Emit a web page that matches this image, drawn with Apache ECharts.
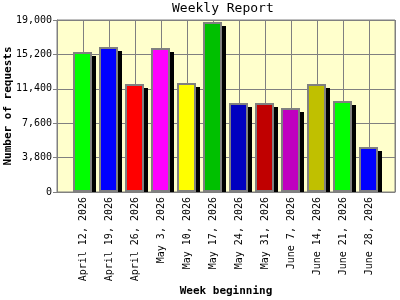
<!DOCTYPE html>
<html>
<head>
<meta charset="utf-8">
<script src="https://cdn.jsdelivr.net/npm/echarts@6/dist/echarts.min.js"></script>
<style>
html, body { margin: 0; padding: 0; background: #fff; }
#main { width: 400px; height: 300px; }
</style>
</head>
<body>
<div id="main"></div>
<script>
var weeks = ['April 12, 2026', 'April 19, 2026', 'April 26, 2026', 'May 3, 2026',
    'May 10, 2026', 'May 17, 2026', 'May 24, 2026', 'May 31, 2026',
    'June 7, 2026', 'June 14, 2026', 'June 21, 2026', 'June 28, 2026'];
var requests = [15430, 16050, 11900, 15870, 12000, 18750, 9800, 9800, 9250, 11930, 10020, 4940];
var colors = ['#00ff00', '#0000ff', '#ff0000', '#ff00ff', '#ffff00', '#00c000',
    '#0000c0', '#c00000', '#c000c0', '#c0c000', '#00ff00', '#0000ff'];

var myChart = echarts.init(document.getElementById('main'));
var font = 'DejaVu Sans Mono';

var data = [];
for (var i = 0; i < requests.length; i++) {
    data.push([i + 1, requests[i]]);
}

// bar with a hard black drop shadow, cut off at the x axis
function renderBar(params, api) {
    var top = api.coord([api.value(0), api.value(1)]);
    var base = api.coord([api.value(0), 0]);
    var cx = Math.round(top[0]);
    var y = Math.round(top[1]);
    var b = Math.round(base[1]);
    return {
        type: 'group',
        children: [{
            type: 'rect',
            shape: { x: cx - 5, y: y + 4, width: 18, height: b - y - 4 },
            style: { fill: '#000' }
        }, {
            type: 'rect',
            shape: { x: cx - 9, y: y + 1, width: 17, height: b - y - 2 },
            style: { fill: colors[params.dataIndex], stroke: '#808080', lineWidth: 2 }
        }]
    };
}

option = {
    animation: false,
    backgroundColor: '#fff',
    title: {
        text: 'Weekly Report',
        left: 172,
        top: 2,
        padding: 0,
        textStyle: { fontFamily: font, fontSize: 13, fontWeight: 'normal', color: '#000' }
    },
    grid: {
        left: 57, right: 5, top: 20, bottom: 108,
        outerBoundsMode: 'none',
        show: true, backgroundColor: '#ffffcc', borderColor: '#808080', borderWidth: 1
    },
    xAxis: {
        type: 'value',
        min: 0,
        max: 13,
        interval: 1,
        name: 'Week beginning',
        nameLocation: 'middle',
        nameGap: 94,
        nameMoveOverlap: false,
        nameTextStyle: { fontFamily: font, fontSize: 11, fontWeight: 'bold', color: '#000' },
        axisLine: { lineStyle: { color: '#808080' } },
        axisTick: { show: false },
        splitLine: { show: true, lineStyle: { color: '#808080' } },
        axisLabel: {
            rotate: 90,
            fontFamily: font,
            fontSize: 10,
            color: '#000',
            margin: 5,
            formatter: function (v) { return weeks[v - 1] || ''; }
        }
    },
    yAxis: {
        type: 'value',
        min: 0,
        max: 19000,
        interval: 3800,
        name: 'Number of requests',
        nameLocation: 'middle',
        nameGap: 43,
        nameMoveOverlap: false,
        nameTextStyle: { fontFamily: font, fontSize: 11, fontWeight: 'bold', color: '#000' },
        axisLine: { show: true, lineStyle: { color: '#808080' } },
        axisTick: { show: true, length: 4, lineStyle: { color: '#808080' } },
        splitLine: { show: true, lineStyle: { color: '#808080' } },
        axisLabel: {
            fontFamily: font,
            fontSize: 10,
            color: '#000',
            margin: 5,
            formatter: function (v) { return v.toLocaleString('en-US'); }
        }
    },
    series: [{
        type: 'custom',
        renderItem: renderBar,
        encode: { x: 0, y: 1 },
        data: data
    }]
};
myChart.setOption(option);
</script>
</body>
</html>
